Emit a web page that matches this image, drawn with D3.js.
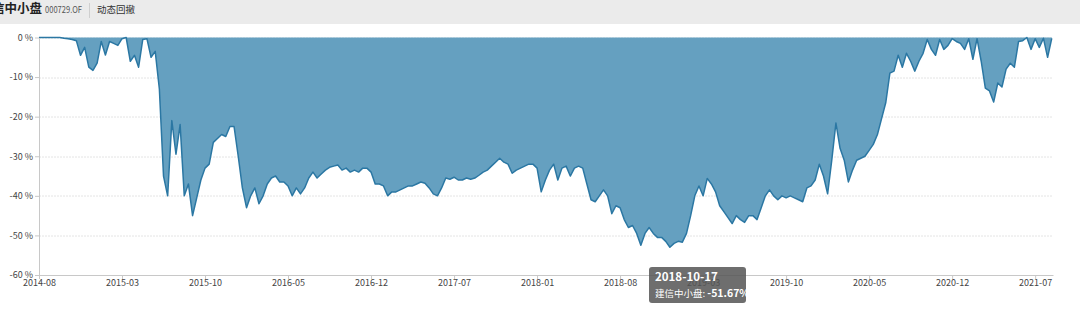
<!DOCTYPE html>
<html>
<head>
<meta charset="utf-8">
<script src="https://cdn.jsdelivr.net/npm/d3@7/dist/d3.min.js"></script>
<style>
  html, body { margin: 0; padding: 0; background: #fff; }
  body { width: 1080px; height: 310px; overflow: hidden; font-family: "Noto Sans CJK SC", "Noto Sans", sans-serif; }
  .axis text { font-size: 9px; fill: #444; font-family: "Noto Sans CJK SC", "Noto Sans", sans-serif; }
  .axis path, .axis line { stroke: #c8c8c8; }
  .grid line { stroke: #e4e4e4; stroke-dasharray: 2,1; }
</style>
</head>
<body>
<svg id="chart" width="1080" height="310"></svg>
<script>
(function() {
  var fund_name = "建信中小盘";
  var fund_code = "000729.OF";
  var tab_label = "动态回撤";

  // x axis labels, one every 20 samples
  var tick_labels = ["2014-08", "2015-03", "2015-10", "2016-05", "2016-12", "2017-07",
    "2018-01", "2018-08", "2019-03", "2019-10", "2020-05", "2020-12", "2021-07"];
  var y_ticks = [0, -10, -20, -30, -40, -50, -60];

  // drawdown in %
  var drawdown = [
    0, 0, 0, 0, 0, 0, -0.2, -0.3, -0.5, -0.8,
    -4.5, -2.5, -7.5, -8.3, -6.5, -1, -4.4, -1, -1.5, -2,
    -0.3, 0, -6, -4.5, -7.5, -0.5, -0.3, -5, -3.5, -13,
    -35, -40, -21, -29.5, -22, -40, -37, -45, -40.5, -36,
    -33, -32, -26.5, -25.5, -24.5, -25, -22.5, -22.5, -30, -38,
    -43, -40, -38, -42, -40, -37, -35.5, -35, -36.5, -36.5,
    -37.5, -40, -38, -39.5, -38, -35.5, -34, -35.5, -34.5, -33.5,
    -32.8, -32.5, -32.2, -33.5, -33, -34, -33.5, -34, -33, -33,
    -34, -37, -37, -37.5, -40, -39, -39, -38.5, -38, -37.5,
    -37.5, -37, -36.5, -36.8, -38, -39.5, -40, -38, -35.5, -35.8,
    -35.3, -36, -36, -35.5, -35.8, -35.5, -34.8, -34, -33.5, -32.5,
    -31.5, -30.5, -31.5, -32, -34.3, -33.5, -33, -32.5, -32, -32,
    -33, -39, -36, -33.5, -32, -36, -33, -32.5, -35, -33,
    -32.5, -33, -37, -41, -41.5, -40, -38.5, -40, -44.5, -42.5,
    -43, -46, -48, -47.5, -49.5, -52.5, -49.5, -48, -49.5, -50.5,
    -50.5, -51.5, -53, -52, -51.5, -51.7, -49.5, -45, -40, -37.5,
    -40, -35.6, -37, -39, -42.5, -44, -45.5, -47, -45, -46,
    -46.7, -45, -45, -46, -43, -40, -38.5, -40, -41, -40,
    -40.5, -40, -40.5, -41, -41.5, -38, -37.5, -36, -32, -35,
    -39.5, -31, -21.6, -28, -31, -36.5, -33.5, -31, -30.5, -30,
    -28.5, -27, -24.5, -20.5, -16.5, -9, -8.5, -4.5, -7.5, -4,
    -6, -8.5, -6, -4, -0.5, -3, -4.5, -0.5, -3, -2,
    -0.3, -1, -1.5, -3, -0.3, -5.5, -0.3, -6, -12.8, -13.5,
    -16.3, -11.5, -12.5, -8, -6.5, -7.5, -1, -0.8, 0, -3,
    -0.3, -2.5, -0.2, -5, -0.2
  ];
  var tick_every = 20;

  var tip_date = "2018-10-17";
  var tip_value = -51.67;

  var margin = {top: 37.5, right: 27, bottom: 35, left: 39},
    width = 1080 - margin.left - margin.right,
    height = 310 - margin.top - margin.bottom;

  var svg = d3.select("#chart");

  // header strip
  svg.append("rect")
    .attr("x", 0).attr("y", 0)
    .attr("width", 1080).attr("height", 24)
    .style("fill", "#ebebeb");

  svg.append("text")
    .attr("x", -20.5).attr("y", 13)
    .style("font-size", "12.5px")
    .style("font-weight", "bold")
    .style("fill", "#222")
    .text(fund_name);

  svg.append("text")
    .attr("x", 45).attr("y", 12.5)
    .attr("textLength", 37)
    .attr("lengthAdjust", "spacingAndGlyphs")
    .style("font-size", "9.5px")
    .style("fill", "#555")
    .text(fund_code);

  svg.append("line")
    .attr("x1", 89.5).attr("x2", 89.5)
    .attr("y1", 3).attr("y2", 18)
    .style("stroke", "#cfcfcf");

  svg.append("text")
    .attr("x", 97).attr("y", 12.5)
    .style("font-size", "9.5px")
    .style("fill", "#333")
    .text(tab_label);

  var x_scaler = d3.scaleLinear()
    .domain([0, 244.3])
    .range([0, width]);

  var y_scaler = d3.scaleLinear()
    .domain([-60, 0])
    .range([height, 0]);

  var chart = svg.append("g")
    .attr("transform", "translate(" + margin.left + "," + margin.top + ")");

  chart.append("g")
    .attr("class", "grid")
    .selectAll("line")
    .data(y_ticks.filter(function(d) { return d != -60; }))
    .enter()
    .append("line")
    .attr("x1", 0)
    .attr("x2", width)
    .attr("y1", function(d) { return Math.round(y_scaler(d)) + 0.5; })
    .attr("y2", function(d) { return Math.round(y_scaler(d)) + 0.5; });

  var area = d3.area()
    .x(function(d, i) { return x_scaler(i); })
    .y0(y_scaler(0))
    .y1(function(d) { return y_scaler(d); });

  var line = d3.line()
    .x(function(d, i) { return x_scaler(i); })
    .y(function(d) { return y_scaler(d); });

  chart.append("path")
    .datum(drawdown)
    .attr("d", area)
    .style("fill", "#65a0c0");

  chart.append("path")
    .datum(drawdown)
    .attr("d", line)
    .style("fill", "none")
    .style("stroke", "#2b77a3")
    .style("stroke-width", 1.5)
    .style("stroke-linejoin", "round");

  var tick_idx = tick_labels.map(function(d, i) { return i * tick_every; });

  chart.append("g")
    .attr("class", "axis")
    .attr("transform", "translate(0," + height + ")")
    .call(d3.axisBottom(x_scaler)
      .tickValues(tick_idx)
      .tickSize(4)
      .tickSizeOuter(0)
      .tickFormat(function(d) { return tick_labels[d / tick_every]; }))
    .selectAll("text")
      .attr("dy", "0.75em")
      .attr("y", 4);

  chart.append("g")
    .attr("class", "axis")
    .call(d3.axisLeft(y_scaler)
      .tickValues(y_ticks)
      .tickSize(4)
      .tickSizeOuter(0)
      .tickFormat(function(d) { return d + " %"; }))
    .selectAll("text")
      .attr("x", -6);

  // tooltip
  var tip = svg.append("g")
    .attr("transform", "translate(649,267)");

  tip.append("rect")
    .attr("width", 97)
    .attr("height", 36)
    .attr("rx", 3)
    .style("fill", "#555")
    .style("fill-opacity", 0.85);

  tip.append("text")
    .attr("x", 6).attr("y", 14)
    .style("font-size", "11.5px")
    .style("font-weight", "bold")
    .style("fill", "#fff")
    .text(tip_date);

  var tip_line = tip.append("text")
    .attr("x", 6).attr("y", 30)
    .style("font-size", "9.5px")
    .style("fill", "#fff");
  tip_line.append("tspan").text(fund_name + ": ");
  tip_line.append("tspan")
    .style("font-weight", "bold")
    .style("font-size", "10.5px")
    .text(tip_value.toFixed(2) + "%");
}());
</script>
</body>
</html>
